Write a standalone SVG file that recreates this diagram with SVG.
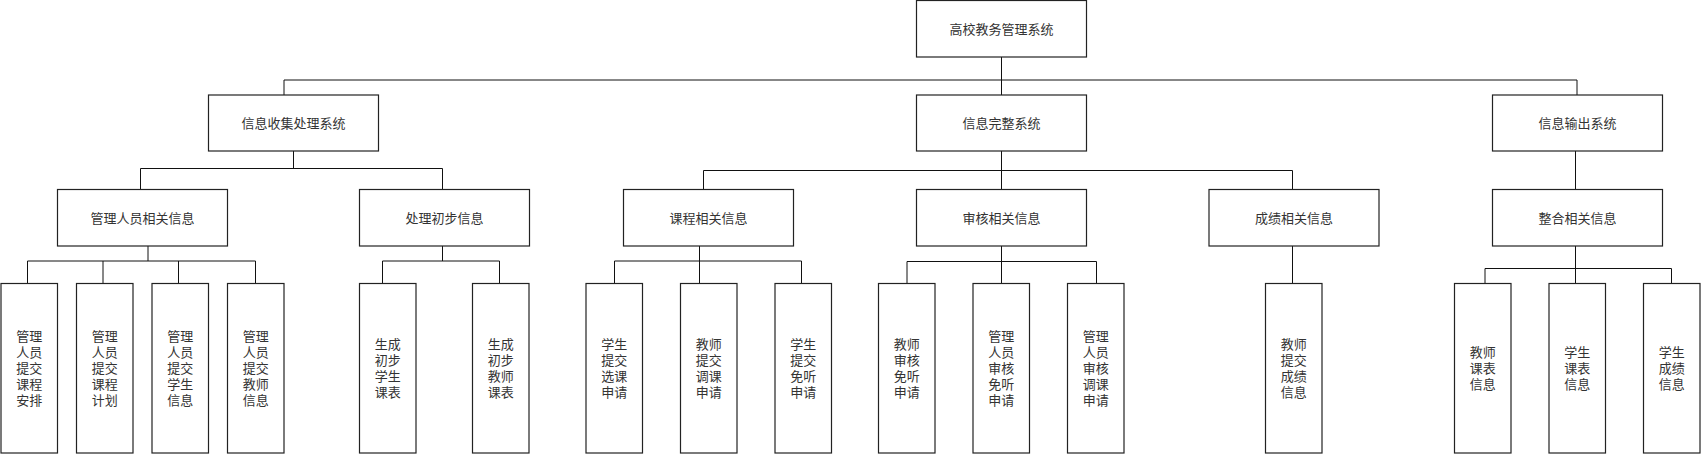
<svg xmlns="http://www.w3.org/2000/svg" width="1701" height="454" viewBox="0 0 1701 454">
<style>
.box{fill:#fff;stroke:#222;stroke-width:1.2}
.t{font-family:"Noto Sans CJK SC","Liberation Sans",sans-serif;font-size:13px;fill:#333;text-anchor:middle}
.c{fill:none;stroke:#111;stroke-width:1}
</style>
<g id="connectors">
<path class="c" d="M1001.5 57V95M284 80H1577M284 80V95M1577 80V95"/>
<path class="c" d="M293.5 151V168.5M140.5 168.5H442.5M140.5 168.5V189.5M442.5 168.5V189.5"/>
<path class="c" d="M148 246V261M27.5 261H255.5M27.5 261V283.5M103 261V283.5M178.5 261V283.5M255.5 261V283.5"/>
<path class="c" d="M442.5 246V261M382.5 261H499.5M382.5 261V283.5M499.5 261V283.5"/>
<path class="c" d="M1001.5 151V189.5M703.5 170.5H1292.5M703.5 170.5V189.5M1292.5 170.5V189.5"/>
<path class="c" d="M699.5 246V261M614.5 261H801.5M614.5 261V283.5M699.5 261V283.5M801.5 261V283.5"/>
<path class="c" d="M1001.5 246V283.5M907 261.5H1096.5M907 261.5V283.5M1096.5 261.5V283.5"/>
<path class="c" d="M1292.5 246V283.5"/>
<path class="c" d="M1575.5 151V189.5M1575.5 246V283.5M1485 268.5H1671.5M1485 268.5V283.5M1671.5 268.5V283.5"/>
</g>
<g id="root"><rect class="box" x="916.5" y="0.5" width="170" height="56.5"/><text class="t" x="1001.5" y="33.5">高校教务管理系统</text></g>
<g id="n_collect"><rect class="box" x="208.5" y="95" width="170" height="56"/><text class="t" x="293.5" y="127.7">信息收集处理系统</text></g>
<g id="n_complete"><rect class="box" x="916.5" y="95" width="170" height="56"/><text class="t" x="1001.5" y="127.7">信息完整系统</text></g>
<g id="n_output"><rect class="box" x="1492.5" y="95" width="170" height="56"/><text class="t" x="1577.5" y="127.7">信息输出系统</text></g>
<g id="n_admin"><rect class="box" x="57.5" y="189.5" width="170" height="56.5"/><text class="t" x="142.5" y="222.5">管理人员相关信息</text></g>
<g id="n_process"><rect class="box" x="359.5" y="189.5" width="170" height="56.5"/><text class="t" x="444.5" y="222.5">处理初步信息</text></g>
<g id="n_course"><rect class="box" x="623.5" y="189.5" width="170" height="56.5"/><text class="t" x="708.5" y="222.5">课程相关信息</text></g>
<g id="n_audit"><rect class="box" x="916.5" y="189.5" width="170" height="56.5"/><text class="t" x="1001.5" y="222.5">审核相关信息</text></g>
<g id="n_grade"><rect class="box" x="1209" y="189.5" width="170" height="56.5"/><text class="t" x="1294" y="222.5">成绩相关信息</text></g>
<g id="n_merge"><rect class="box" x="1492.5" y="189.5" width="170" height="56.5"/><text class="t" x="1577.5" y="222.5">整合相关信息</text></g>
<g id="l1"><rect class="box" x="1" y="283.5" width="56.5" height="169.5"/><text class="t" x="29.3" y="340.7"><tspan x="29.3">管理</tspan><tspan x="29.3" dy="16">人员</tspan><tspan x="29.3" dy="16">提交</tspan><tspan x="29.3" dy="16">课程</tspan><tspan x="29.3" dy="16">安排</tspan></text></g>
<g id="l2"><rect class="box" x="76.5" y="283.5" width="56.5" height="169.5"/><text class="t" x="104.8" y="340.7"><tspan x="104.8">管理</tspan><tspan x="104.8" dy="16">人员</tspan><tspan x="104.8" dy="16">提交</tspan><tspan x="104.8" dy="16">课程</tspan><tspan x="104.8" dy="16">计划</tspan></text></g>
<g id="l3"><rect class="box" x="152" y="283.5" width="56.5" height="169.5"/><text class="t" x="180.3" y="340.7"><tspan x="180.3">管理</tspan><tspan x="180.3" dy="16">人员</tspan><tspan x="180.3" dy="16">提交</tspan><tspan x="180.3" dy="16">学生</tspan><tspan x="180.3" dy="16">信息</tspan></text></g>
<g id="l4"><rect class="box" x="227.5" y="283.5" width="56.5" height="169.5"/><text class="t" x="255.8" y="340.7"><tspan x="255.8">管理</tspan><tspan x="255.8" dy="16">人员</tspan><tspan x="255.8" dy="16">提交</tspan><tspan x="255.8" dy="16">教师</tspan><tspan x="255.8" dy="16">信息</tspan></text></g>
<g id="l5"><rect class="box" x="359.5" y="283.5" width="56.5" height="169.5"/><text class="t" x="387.8" y="348.7"><tspan x="387.8">生成</tspan><tspan x="387.8" dy="16">初步</tspan><tspan x="387.8" dy="16">学生</tspan><tspan x="387.8" dy="16">课表</tspan></text></g>
<g id="l6"><rect class="box" x="472.5" y="283.5" width="56.5" height="169.5"/><text class="t" x="500.8" y="348.7"><tspan x="500.8">生成</tspan><tspan x="500.8" dy="16">初步</tspan><tspan x="500.8" dy="16">教师</tspan><tspan x="500.8" dy="16">课表</tspan></text></g>
<g id="l7"><rect class="box" x="586" y="283.5" width="56.5" height="169.5"/><text class="t" x="614.3" y="348.7"><tspan x="614.3">学生</tspan><tspan x="614.3" dy="16">提交</tspan><tspan x="614.3" dy="16">选课</tspan><tspan x="614.3" dy="16">申请</tspan></text></g>
<g id="l8"><rect class="box" x="680.5" y="283.5" width="56.5" height="169.5"/><text class="t" x="708.8" y="348.7"><tspan x="708.8">教师</tspan><tspan x="708.8" dy="16">提交</tspan><tspan x="708.8" dy="16">调课</tspan><tspan x="708.8" dy="16">申请</tspan></text></g>
<g id="l9"><rect class="box" x="775" y="283.5" width="56.5" height="169.5"/><text class="t" x="803.3" y="348.7"><tspan x="803.3">学生</tspan><tspan x="803.3" dy="16">提交</tspan><tspan x="803.3" dy="16">免听</tspan><tspan x="803.3" dy="16">申请</tspan></text></g>
<g id="l10"><rect class="box" x="878.5" y="283.5" width="56.5" height="169.5"/><text class="t" x="906.8" y="348.7"><tspan x="906.8">教师</tspan><tspan x="906.8" dy="16">审核</tspan><tspan x="906.8" dy="16">免听</tspan><tspan x="906.8" dy="16">申请</tspan></text></g>
<g id="l11"><rect class="box" x="973" y="283.5" width="56.5" height="169.5"/><text class="t" x="1001.3" y="340.7"><tspan x="1001.3">管理</tspan><tspan x="1001.3" dy="16">人员</tspan><tspan x="1001.3" dy="16">审核</tspan><tspan x="1001.3" dy="16">免听</tspan><tspan x="1001.3" dy="16">申请</tspan></text></g>
<g id="l12"><rect class="box" x="1067.5" y="283.5" width="56.5" height="169.5"/><text class="t" x="1095.8" y="340.7"><tspan x="1095.8">管理</tspan><tspan x="1095.8" dy="16">人员</tspan><tspan x="1095.8" dy="16">审核</tspan><tspan x="1095.8" dy="16">调课</tspan><tspan x="1095.8" dy="16">申请</tspan></text></g>
<g id="l13"><rect class="box" x="1265.5" y="283.5" width="56.5" height="169.5"/><text class="t" x="1293.8" y="348.7"><tspan x="1293.8">教师</tspan><tspan x="1293.8" dy="16">提交</tspan><tspan x="1293.8" dy="16">成绩</tspan><tspan x="1293.8" dy="16">信息</tspan></text></g>
<g id="l14"><rect class="box" x="1454.5" y="283.5" width="56.5" height="169.5"/><text class="t" x="1482.8" y="356.7"><tspan x="1482.8">教师</tspan><tspan x="1482.8" dy="16">课表</tspan><tspan x="1482.8" dy="16">信息</tspan></text></g>
<g id="l15"><rect class="box" x="1549" y="283.5" width="56.5" height="169.5"/><text class="t" x="1577.3" y="356.7"><tspan x="1577.3">学生</tspan><tspan x="1577.3" dy="16">课表</tspan><tspan x="1577.3" dy="16">信息</tspan></text></g>
<g id="l16"><rect class="box" x="1643.5" y="283.5" width="56.5" height="169.5"/><text class="t" x="1671.8" y="356.7"><tspan x="1671.8">学生</tspan><tspan x="1671.8" dy="16">成绩</tspan><tspan x="1671.8" dy="16">信息</tspan></text></g>
</svg>
